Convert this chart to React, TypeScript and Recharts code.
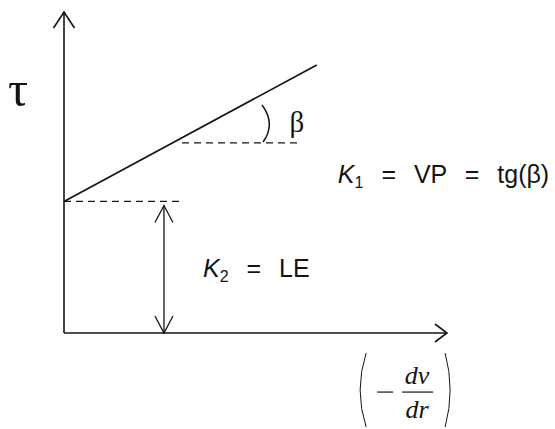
import React from 'react';
import { LineChart, Line, XAxis, YAxis, ReferenceLine, ReferenceDot } from 'recharts';

// Bingham plastic model: shear stress vs. shear rate
const shearRate = [0, 6.6];
const shearStress = [4.1, 8.35];
const yieldStress = 4.1; // K2 = LE
const yieldDashEnd = 3.1;
const slopeRefY = 5.92;
const slopeRefX = [3.08, 6.16];
const yieldArrowX = 2.61;
const axisMax = 10;

const data = shearRate.map((r, i) => ({ rate: r, stress: shearStress[i] }));

const INK = '#141414';

type Seg = { x1?: number; y1?: number; x2?: number; y2?: number };
type Dot = { cx?: number; cy?: number };

const arrowShape = (startHead: boolean, endHead: boolean, len: number, half: number, width: number) =>
  (p: Seg) => {
    const x1 = Number(p.x1), y1 = Number(p.y1), x2 = Number(p.x2), y2 = Number(p.y2);
    const dx = x2 - x1, dy = y2 - y1;
    const d = Math.hypot(dx, dy) || 1;
    const ux = dx / d, uy = dy / d;
    const nx = -uy, ny = ux;
    const head = (tx: number, ty: number, s: number) =>
      `M${tx - s * ux * len + nx * half},${ty - s * uy * len + ny * half} L${tx},${ty} L${tx - s * ux * len - nx * half},${ty - s * uy * len - ny * half}`;
    return (
      <g>
        <line x1={x1} y1={y1} x2={x2} y2={y2} stroke={INK} strokeWidth={width} />
        {endHead && <path d={head(x2, y2, 1)} fill="none" stroke={INK} strokeWidth={width} />}
        {startHead && <path d={head(x1, y1, -1)} fill="none" stroke={INK} strokeWidth={width} />}
      </g>
    );
  };

const sans = '"Liberation Sans", Arial, sans-serif';
const serif = '"Liberation Serif", "Times New Roman", serif';

export default function App() {
  return (
    <div style={{ position: 'fixed', left: 0, top: 0, width: 555, height: 429, background: '#fff' }}>
      <LineChart width={555} height={429} data={data} margin={{ top: 12, right: 108, bottom: 96, left: 64 }}>
        <XAxis type="number" dataKey="rate" domain={[0, axisMax]} hide />
        <YAxis type="number" domain={[0, axisMax]} hide />

        {/* axes with arrowheads */}
        <ReferenceLine
          ifOverflow="visible"
          segment={[{ x: 0, y: 0 }, { x: axisMax, y: 0 }]}
          shape={arrowShape(false, true, 12, 9, 1.6)}
        />
        <ReferenceLine
          ifOverflow="visible"
          segment={[{ x: 0, y: 0 }, { x: 0, y: axisMax }]}
          shape={arrowShape(false, true, 16, 10.5, 1.6)}
        />

        {/* dashed guides */}
        <ReferenceLine
          ifOverflow="visible"
          segment={[{ x: 0, y: yieldStress }, { x: yieldDashEnd, y: yieldStress }]}
          stroke={INK}
          strokeWidth={1.3}
          strokeDasharray="7 5"
        />
        <ReferenceLine
          ifOverflow="visible"
          segment={[{ x: slopeRefX[0], y: slopeRefY }, { x: slopeRefX[1], y: slopeRefY }]}
          stroke={INK}
          strokeWidth={1.3}
          strokeDasharray="7 5"
        />

        {/* yield stress double arrow */}
        <ReferenceLine
          ifOverflow="visible"
          segment={[{ x: yieldArrowX, y: 0 }, { x: yieldArrowX, y: 3.97 }]}
          shape={arrowShape(true, true, 17, 9, 1.3)}
        />

        <Line
          type="linear"
          dataKey="stress"
          stroke={INK}
          strokeWidth={1.7}
          dot={false}
          activeDot={false}
          isAnimationActive={false}
        />

        {/* angle mark and labels */}
        <ReferenceDot
          x={5.25}
          y={6.51}
          ifOverflow="visible"
          shape={(p: Dot) => (
            <path
              d={`M${Number(p.cx) - 3},${Number(p.cy) - 19} Q${Number(p.cx) + 11},${Number(p.cy)} ${Number(p.cx) - 2},${Number(p.cy) + 18}`}
              fill="none"
              stroke={INK}
              strokeWidth={1.5}
            />
          )}
        />
        <ReferenceDot
          x={6.08}
          y={6.51}
          ifOverflow="visible"
          shape={(p: Dot) => (
            <text x={p.cx} y={Number(p.cy) + 8} textAnchor="middle" fontFamily={serif} fontSize={29} fill={INK}>
              β
            </text>
          )}
        />
        <ReferenceDot
          x={7.15}
          y={4.67}
          ifOverflow="visible"
          shape={(p: Dot) => (
            <text x={p.cx} y={p.cy} fontFamily={sans} fontSize={25} fill={INK} wordSpacing={11} style={{ whiteSpace: 'pre' }}>
              <tspan fontStyle="italic">K</tspan>
              <tspan fontSize={16} dy={5}>1</tspan>
              <tspan dy={-5}> = VP = tg(β)</tspan>
            </text>
          )}
        />
        <ReferenceDot
          x={3.63}
          y={1.74}
          ifOverflow="visible"
          shape={(p: Dot) => (
            <text x={p.cx} y={p.cy} fontFamily={sans} fontSize={25} fill={INK} wordSpacing={11} style={{ whiteSpace: 'pre' }}>
              <tspan fontStyle="italic">K</tspan>
              <tspan fontSize={16} dy={5}>2</tspan>
              <tspan dy={-5}> = LE</tspan>
            </text>
          )}
        />
        <ReferenceDot
          x={-1.2}
          y={7.07}
          ifOverflow="visible"
          shape={(p: Dot) => (
            <text x={p.cx} y={p.cy} textAnchor="middle" fontFamily={serif} fontSize={50} fill={INK}>
              τ
            </text>
          )}
        />
        <ReferenceDot
          x={9.22}
          y={-1.84}
          ifOverflow="visible"
          shape={(p: Dot) => {
            const cx = Number(p.cx), cy = Number(p.cy);
            return (
              <g fill={INK}>
                <path d={`M${cx - 51},${cy - 39} Q${cx - 63},${cy - 2} ${cx - 51},${cy + 35}`} fill="none" stroke={INK} strokeWidth={1} />
                <path d={`M${cx + 28},${cy - 39} Q${cx + 38},${cy - 2} ${cx + 28},${cy + 35}`} fill="none" stroke={INK} strokeWidth={1} />
                <line x1={cx - 40} y1={cy} x2={cx - 24} y2={cy} stroke={INK} strokeWidth={1.2} />
                <line x1={cx - 15} y1={cy} x2={cx + 16} y2={cy} stroke={INK} strokeWidth={1.2} />
                <text x={cx} y={cy - 8} textAnchor="middle" fontFamily={serif} fontStyle="italic" fontSize={26}>dv</text>
                <text x={cx} y={cy + 26} textAnchor="middle" fontFamily={serif} fontStyle="italic" fontSize={26}>dr</text>
              </g>
            );
          }}
        />
      </LineChart>
    </div>
  );
}
